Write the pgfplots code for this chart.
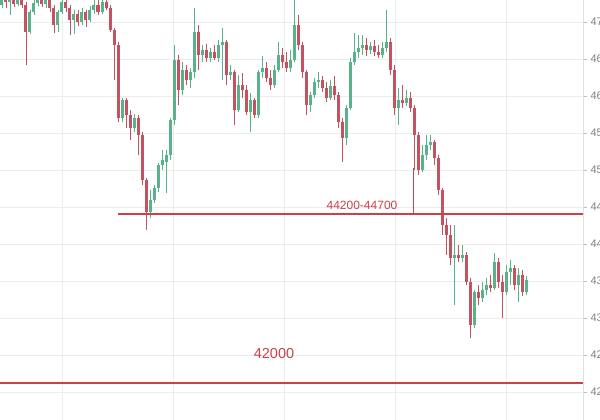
\documentclass[border=0pt]{standalone}
\usepackage{fontspec}
\setmainfont{Liberation Sans}
\usepackage{pgfplots}
\usepackage{pgfplotstable}
\pgfplotsset{compat=1.18}

\definecolor{upgreen}{RGB}{88,178,140}
\definecolor{downred}{RGB}{196,82,96}
\definecolor{annred}{RGB}{204,64,76}
\definecolor{gridgray}{RGB}{236,236,236}

% columns: x, body low, body high, high, low
\pgfplotstableread{
x bl bh h l
2 47229 47365 47500 47189
10 47270 47338 47432 47094
18 47243 47297 47405 47216
30 46865 47135 47162 46838
34 47135 47256 47297 47094
38 47256 47324 47432 47216
46 47243 47311 47405 47189
58 46959 47135 47162 46865
62 47135 47270 47324 47108
74 47027 47108 47162 46838
82 47000 47135 47189 46959
90 47027 47162 47216 47000
94 47162 47229 47297 47108
102 47135 47270 47365 47108
122 45702 45946 45973 45648
134 45567 45702 45756 45513
150 44432 44594 44729 44351
154 44594 44756 44797 44554
158 44756 45067 45094 44702
162 45067 45135 45270 45000
166 45108 45202 45270 44689
170 45202 45675 45702 45135
174 45675 46486 46689 45608
182 46081 46351 46459 46013
190 46216 46324 46378 46108
194 46324 46865 47189 46243
202 46554 46621 46689 46459
210 46513 46594 46648 46459
218 46513 46689 46757 46459
222 46689 46729 46919 46216
230 46284 46324 46419 46216
238 45811 46148 46284 45784
250 45784 45946 46040 45513
258 45743 46324 46351 45702
262 46324 46378 46540 46243
274 46148 46351 46419 46108
278 46351 46554 46729 46324
290 46378 46486 46621 46324
294 46486 46959 47365 46459
310 45878 46013 46054 45784
314 46013 46189 46243 45973
318 46189 46216 46324 46108
330 45973 46135 46216 45946
346 45432 45838 45878 45337
350 45838 46459 46513 45811
354 46459 46594 46851 46419
358 46594 46648 46824 46513
362 46648 46689 46824 46554
370 46621 46675 46729 46567
382 46554 46648 46729 46513
386 46648 46729 47162 46594
398 45838 45946 46108 45608
406 45905 45973 46081 45865
422 45000 45202 45337 44973
426 45202 45337 45473 45135
430 45337 45378 45473 45270
454 43810 43851 44256 43175
462 43810 43851 43986 43756
474 42905 43351 43378 42864
482 43270 43378 43486 43216
486 43378 43446 43540 43310
494 43405 43756 43878 43378
506 43351 43621 43716 43310
510 43621 43675 43783 43446
518 43446 43581 43675 43216
526 43351 43513 43567 43310
}\upcandles

\pgfplotstableread{
x bl bh h l
6 47270 47365 47459 47189
14 47243 47338 47432 47202
22 47229 47297 47378 47189
26 46865 47229 47270 46419
42 47243 47324 47459 47202
50 47189 47311 47365 47135
54 46959 47189 47229 46851
66 47189 47270 47338 47135
70 47027 47189 47229 46824
78 47000 47108 47162 46946
86 47027 47135 47162 46932
98 47135 47229 47324 47094
106 47189 47270 47567 47162
110 46892 47189 47229 46865
114 46689 46892 46919 46216
118 45702 46689 46729 45648
126 45743 45946 45973 45567
130 45567 45743 45811 45405
138 45473 45702 45743 45202
142 44865 45473 45513 44797
146 44432 44865 44892 44189
178 46081 46486 46554 45878
186 46216 46351 46419 46148
198 46554 46865 46959 46351
206 46513 46621 46702 46459
214 46513 46594 46689 46486
226 46284 46729 46757 46148
234 45811 46324 46351 45608
242 46081 46148 46311 45973
246 45784 46081 46148 45743
254 45743 45946 45973 45702
266 46243 46378 46459 46189
270 46148 46243 46351 46081
282 46459 46554 46648 46378
286 46378 46459 46594 46324
298 46689 46959 47094 46621
302 46324 46689 46729 46243
306 45878 46324 46351 45743
322 46108 46216 46270 46054
326 45973 46108 46189 45919
334 46013 46135 46270 45946
338 45648 46013 46054 45567
342 45432 45648 45702 45108
366 46621 46689 46783 46540
374 46594 46675 46757 46540
378 46554 46594 46689 46513
390 46351 46729 46783 46284
394 45838 46351 46419 45743
402 45905 45946 46148 45838
410 45838 45973 46054 45784
414 45473 45838 45878 45000
418 45000 45473 45513 44932
434 45162 45378 45405 45067
438 44729 45162 45202 44662
442 44256 44729 44756 44121
446 44121 44256 44351 43851
450 43810 44121 44256 43716
458 43810 43851 43986 43756
466 43486 43851 43891 43446
470 42905 43486 43540 42729
478 43270 43351 43446 43175
490 43405 43446 43581 43351
498 43486 43756 43810 43405
502 43351 43486 43581 43000
514 43446 43675 43716 43378
522 43351 43581 43648 43297
}\downcandles

\begin{document}
\begin{tikzpicture}
\clip (0,0) rectangle (600pt,420pt);
\useasboundingbox (0,0) rectangle (600pt,420pt);
\begin{axis}[
    at={(0,0)}, anchor=south west,
    scale only axis,
    width=583pt, height=420pt,
    xmin=0, xmax=583,
    ymin=41621, ymax=47297,
    axis x line*=bottom,
    axis y line*=right,
    x axis line style={draw=none},
    y axis line style={draw=black!12},
    xtick={62,173,284,395,506},
    xticklabels={},
    xtick style={draw=none},
    ytick={42000,42500,...,47000},
    scaled y ticks=false,
    tick align=outside,
    major tick length=4pt,
    ytick style={draw=black!25},
    yticklabel style={anchor=west, text=black!50, font=\fontsize{11}{13}\selectfont},
    /pgf/number format/1000 sep={},
    /pgf/number format/assume math mode=true,
    grid=major,
    major grid style={draw=gridgray, line width=0.8pt},
]
% wicks
\addplot[draw=none, mark=none, forget plot,
    error bars/.cd, y dir=plus, y explicit, error mark=none,
    error bar style={draw=upgreen, line width=0.8pt}]
    table[x=x, y=l, y error plus expr=\thisrow{h}-\thisrow{l}] {\upcandles};
\addplot[draw=none, mark=none, forget plot,
    error bars/.cd, y dir=plus, y explicit, error mark=none,
    error bar style={draw=downred, line width=0.8pt}]
    table[x=x, y=l, y error plus expr=\thisrow{h}-\thisrow{l}] {\downcandles};
% bodies
\addplot[draw=none, mark=none, forget plot,
    error bars/.cd, y dir=plus, y explicit, error mark=none,
    error bar style={draw=upgreen, line width=3pt}]
    table[x=x, y=bl, y error plus expr=\thisrow{bh}-\thisrow{bl}] {\upcandles};
\addplot[draw=none, mark=none, forget plot,
    error bars/.cd, y dir=plus, y explicit, error mark=none,
    error bar style={draw=downred, line width=3pt}]
    table[x=x, y=bl, y error plus expr=\thisrow{bh}-\thisrow{bl}] {\downcandles};

% annotation lines
\addplot[annred, line width=1.8pt, no marks] coordinates {(118,44405) (583,44405)};
\addplot[annred, line width=0.8pt, no marks] coordinates {(413,45027) (413,44405)};
\addplot[annred, line width=1.8pt, no marks] coordinates {(0,42121) (583,42121)};

\node[text=annred, font=\fontsize{12}{14}\selectfont] at (axis cs:362,44527) {44200-44700};
\node[text=annred, font=\fontsize{14.5}{16}\selectfont] at (axis cs:274,42513) {42000};
\end{axis}
\end{tikzpicture}
\end{document}
